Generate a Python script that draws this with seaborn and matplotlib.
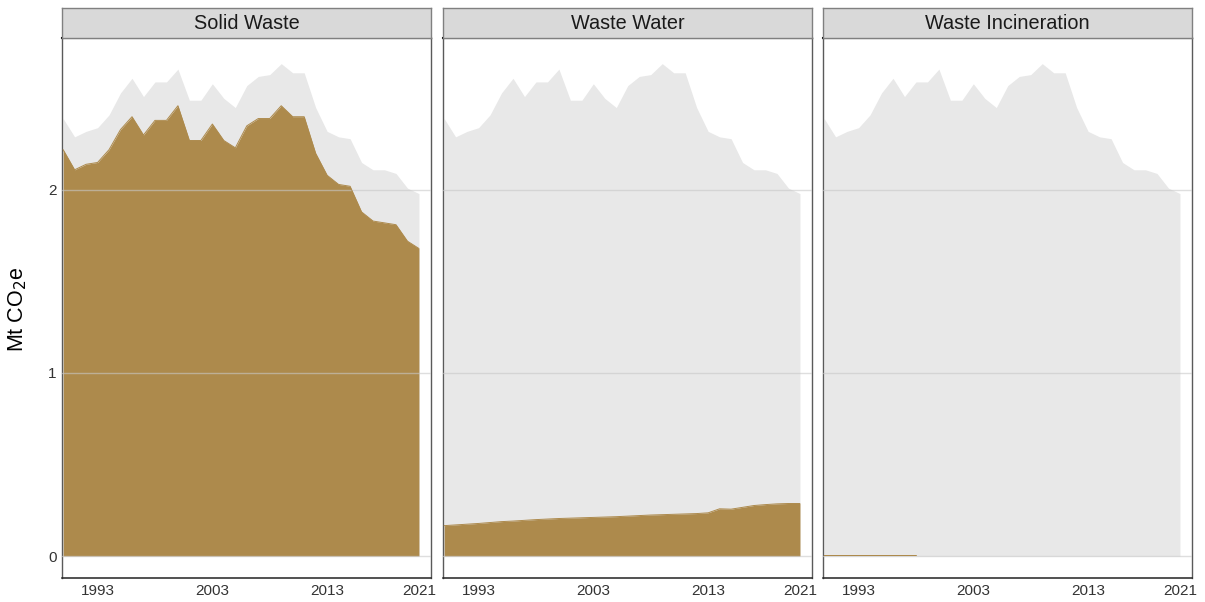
import numpy as np
import pandas as pd
import matplotlib.pyplot as plt
import seaborn as sns

years = list(range(1990, 2022))
sectors = ['Solid Waste', 'Waste Water', 'Waste Incineration']

# total waste emissions (grey backdrop in every panel)
total = [2.39, 2.29, 2.32, 2.34, 2.41, 2.53, 2.61, 2.51, 2.59, 2.59,
         2.66, 2.49, 2.49, 2.58, 2.50, 2.45, 2.57, 2.62, 2.63, 2.69,
         2.64, 2.64, 2.45, 2.32, 2.29, 2.28, 2.15, 2.11, 2.11, 2.09,
         2.01, 1.98]
solid_waste = [2.22, 2.11, 2.14, 2.15, 2.22, 2.33, 2.40, 2.30, 2.38, 2.38,
               2.46, 2.27, 2.27, 2.36, 2.27, 2.23, 2.35, 2.39, 2.39, 2.46,
               2.40, 2.40, 2.20, 2.08, 2.03, 2.02, 1.88, 1.83, 1.82, 1.81,
               1.72, 1.68]
waste_water = [0.166, 0.170, 0.174, 0.178, 0.183, 0.188, 0.191, 0.195, 0.199, 0.202,
               0.205, 0.207, 0.209, 0.211, 0.213, 0.215, 0.218, 0.221, 0.224, 0.226,
               0.228, 0.230, 0.232, 0.236, 0.258, 0.256, 0.266, 0.276, 0.281, 0.285,
               0.287, 0.287]
# incineration only reported for the early years
incineration = [0.006, 0.006, 0.006, 0.006, 0.006, 0.006, 0.006, 0.006, 0.006] + [np.nan] * 23

df = pd.DataFrame({'year': years, 'total': total,
                   'Solid Waste': solid_waste, 'Waste Water': waste_water,
                   'Waste Incineration': incineration})

sns.set_theme(style='white')
plt.rcParams['font.family'] = ['Liberation Sans', 'DejaVu Sans']

W, H = 1205, 602
fig = plt.figure(figsize=(W / 100, H / 100), dpi=100)
lefts = [62, 443, 823]
pw = 369
top, bottom, strip_top = 38, 578, 7.5
brown = '#AD8A4C'

for i, (sec, l) in enumerate(zip(sectors, lefts)):
    ax = fig.add_axes([l / W, 1 - bottom / H, pw / W, (bottom - top) / H])
    ax.fill_between(df['year'], df['total'], color='#E8E8E8', lw=0, zorder=1)
    ax.fill_between(df['year'], df[sec], color=brown, lw=0, zorder=2)
    for g in [0, 1, 2]:
        ax.axhline(g, color='#C8C8C8', lw=1, alpha=0.6, zorder=3)
    sns.lineplot(data=df, x='year', y=sec, ax=ax, color=brown, lw=0.7, zorder=4)
    ax.set_xlim(1989.9, 2022.05)
    ax.set_ylim(-0.12, 2.83)
    ax.set_xticks([1993, 2003, 2013, 2021])
    ax.set_yticks([0, 1, 2])
    ax.tick_params(length=0, labelsize=11, colors='#333333', pad=4)
    ax.set_xlabel('')
    ax.set_ylabel('')
    if i > 0:
        ax.set_yticklabels([])
    for s in ['left', 'right']:
        ax.spines[s].set_color('#5A5A5A')
        ax.spines[s].set_linewidth(1)
    ax.spines['bottom'].set_color('#222222')
    ax.spines['bottom'].set_linewidth(1.1)
    ax.spines['top'].set_color('black')
    ax.spines['top'].set_linewidth(1.5)

    sa = fig.add_axes([l / W, 1 - top / H, pw / W, (top - strip_top) / H])
    sa.set_facecolor('#D9D9D9')
    sa.set_xticks([])
    sa.set_yticks([])
    for s in sa.spines.values():
        s.set_color('#808080')
        s.set_linewidth(1)
    sa.text(0.5, 0.48, sec, ha='center', va='center', fontsize=14.3,
            color='#1A1A1A', transform=sa.transAxes)

fig.text(18 / W, 1 - 309 / H, 'Mt CO$_2$e', rotation=90, ha='center', va='center',
         fontsize=15.5, color='black')

fig.savefig('out.png', dpi=100)
